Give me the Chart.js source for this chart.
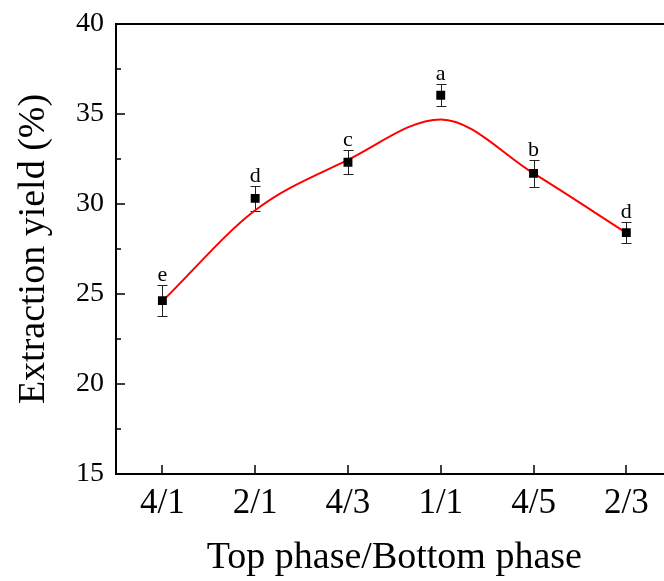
<!DOCTYPE html>
<html>
<head>
<meta charset="utf-8">
<script src="https://cdn.jsdelivr.net/npm/chart.js@4.4.1/dist/chart.umd.min.js"></script>
<style>
  html, body { margin: 0; padding: 0; background: #fff; overflow: hidden; }
  canvas { display: block; }
</style>
</head>
<body>
<canvas id="c" width="679" height="581"></canvas>
<script>
// Phase volume ratios (top / bottom)
const categories = ['4/1', '2/1', '4/3', '1/1', '4/5', '2/3'];
// Mean extraction yield (%) and standard deviation
const yieldMean = [24.63, 30.31, 32.32, 36.04, 31.70, 28.41];
const yieldErr = [0.87, 0.71, 0.66, 0.61, 0.75, 0.57];
// Significance groups
const groupLetters = ['e', 'd', 'c', 'a', 'b', 'd'];
// Fitted trend line evaluated at each ratio
const fitCurve = [24.6, 29.65, 32.45, 34.7, 31.7, 28.4];
// Y axis range and tick step
const yMin = 15, yMax = 40, yStep = 5;

const SERIF = '"Liberation Serif", "Times New Roman", Times, serif';

// Error bars under the markers, group letters above them
const errorBars = {
  id: 'errorBars',
  beforeDatasetsDraw(chart) {
    const { ctx, scales: { x, y } } = chart;
    ctx.save();
    ctx.strokeStyle = '#222';
    ctx.lineWidth = 1;
    yieldMean.forEach((m, i) => {
      const px = Math.round(x.getPixelForValue(i)) + 0.5;
      const top = Math.round(y.getPixelForValue(m + yieldErr[i])) + 0.5;
      const bot = Math.round(y.getPixelForValue(m - yieldErr[i])) + 0.5;
      ctx.beginPath();
      ctx.moveTo(px, top); ctx.lineTo(px, bot);
      ctx.moveTo(px - 5, top); ctx.lineTo(px + 5, top);
      ctx.moveTo(px - 5, bot); ctx.lineTo(px + 5, bot);
      ctx.stroke();
    });
    ctx.restore();
  },
  afterDatasetsDraw(chart) {
    const { ctx, scales: { x, y } } = chart;
    ctx.save();
    ctx.fillStyle = '#000';
    ctx.font = '22px ' + SERIF;
    ctx.textAlign = 'center';
    ctx.textBaseline = 'alphabetic';
    groupLetters.forEach((t, i) => {
      const px = x.getPixelForValue(i);
      const top = y.getPixelForValue(yieldMean[i] + yieldErr[i]);
      ctx.fillText(t, px, top - 4);
    });
    ctx.restore();
  }
};

// Axis frame with inward major and minor ticks
const axisFrame = {
  id: 'axisFrame',
  afterDraw(chart) {
    const { ctx, chartArea: a, scales: { x, y } } = chart;
    ctx.save();
    ctx.strokeStyle = '#000';
    ctx.lineWidth = 2;
    ctx.beginPath();
    ctx.moveTo(a.left, a.top); ctx.lineTo(chart.width, a.top);
    ctx.moveTo(a.left, a.top - 1); ctx.lineTo(a.left, a.bottom + 1);
    ctx.moveTo(a.left - 1, a.bottom); ctx.lineTo(a.right, a.bottom);
    ctx.stroke();

    ctx.lineWidth = 1.5;
    ctx.beginPath();
    for (let v = yMin; v <= yMax; v += yStep / 2) {
      const py = Math.round(y.getPixelForValue(v));
      const major = (v - yMin) % yStep === 0;
      ctx.moveTo(a.left, py);
      ctx.lineTo(a.left + (major ? 9 : 5), py);
    }
    categories.forEach((c, i) => {
      const px = Math.round(x.getPixelForValue(i));
      ctx.moveTo(px, a.bottom);
      ctx.lineTo(px, a.bottom - 9);
    });
    ctx.stroke();
    ctx.restore();
  }
};

new Chart(document.getElementById('c'), {
  type: 'line',
  data: {
    labels: categories,
    datasets: [
      {
        label: 'Extraction yield',
        data: yieldMean,
        showLine: false,
        pointStyle: 'rect',
        pointRadius: 6.3,
        pointBackgroundColor: '#000',
        pointBorderColor: '#000',
        pointBorderWidth: 0
      },
      {
        label: 'Fit',
        data: fitCurve,
        borderColor: '#ff0000',
        borderWidth: 2,
        pointRadius: 0,
        fill: false,
        cubicInterpolationMode: 'monotone'
      }
    ]
  },
  options: {
    responsive: false,
    animation: false,
    events: [],
    layout: { padding: { top: 24, left: 0, right: 0, bottom: 0 } },
    plugins: { legend: { display: false }, tooltip: { enabled: false } },
    scales: {
      x: {
        type: 'category',
        offset: true,
        grid: { display: false, drawTicks: false },
        border: { display: false },
        ticks: {
          color: '#000',
          font: { family: SERIF, size: 35 },
          padding: 9,
          maxRotation: 0,
          autoSkip: false
        },
        title: {
          display: true,
          text: 'Top phase/Bottom phase',
          color: '#000',
          font: { family: SERIF, size: 38 },
          padding: { top: 0, bottom: 0 }
        },
        afterFit(s) { s.height = 107; }
      },
      y: {
        min: yMin,
        max: yMax,
        grid: { display: false, drawTicks: false },
        border: { display: false },
        ticks: {
          stepSize: yStep,
          color: '#000',
          font: { family: SERIF, size: 28 },
          padding: 12
        },
        title: {
          display: true,
          text: 'Extraction yield (%)',
          color: '#000',
          font: { family: SERIF, size: 38 },
          padding: { top: 11, bottom: 0 }
        },
        afterFit(s) {
          s.width = 116;
          s.paddingTop = 0;
          s.paddingBottom = 0;
        }
      }
    }
  },
  plugins: [errorBars, axisFrame]
});
</script>
</body>
</html>
